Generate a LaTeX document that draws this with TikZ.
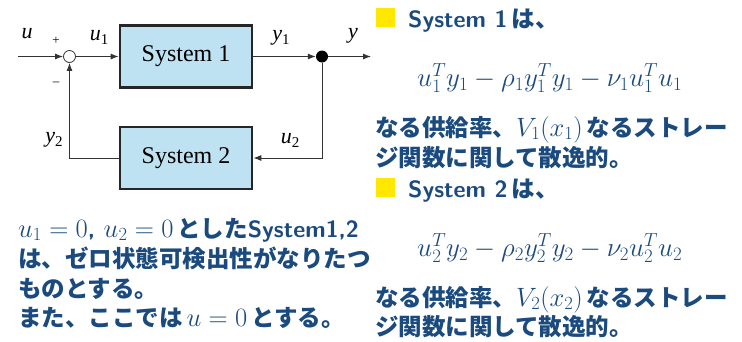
\RequirePackage{fix-cm}
\documentclass[tikz,border=0pt]{standalone}
\usepackage{fontspec}
\newfontfamily\jp{Noto Sans CJK JP}
\newfontfamily\tms{Liberation Serif}
\usetikzlibrary{arrows.meta}
\definecolor{tb}{HTML}{1B4A7E}
\definecolor{boxblue}{HTML}{BFE2F2}
\definecolor{yel}{HTML}{FFE800}
\newcommand\J[1]{{\jp #1}}
\newcommand\sbs[1]{\raisebox{-4pt}{\upshape\fontsize{15}{15}\selectfont #1}}
\tikzset{
  txt/.style={anchor=base west, inner sep=0pt, text=tb, font=\fontsize{23.5}{28}\selectfont\sffamily\bfseries},
  mth/.style={anchor=base west, inner sep=0pt, text=tb, font=\fontsize{27}{30}\selectfont},
  sq/.style={fill=yel, minimum size=19pt, inner sep=0pt},
  blk/.style={draw=black!85, line width=2.6pt, fill=boxblue, minimum width=132pt, minimum height=62pt, inner sep=0pt, font=\tms\fontsize{24}{24}\selectfont},
  sig/.style={draw=black!80, line width=1pt, -{Latex[length=8pt,width=6pt]}},
  lab/.style={font=\tms\fontsize{22}{22}\selectfont\itshape, inner sep=0pt},
  sgn/.style={font=\tms\fontsize{13}{13}\selectfont, inner sep=0pt},
}
\newcommand\M[1]{{\fontsize{26.5}{28}\selectfont$#1$}}
\begin{document}
\begin{tikzpicture}[x=1pt,y=-1pt]
\useasboundingbox (0,0) rectangle (742,341);
% block diagram
\node[blk] (s1) at (186,56.5) {System 1};
\node[blk] (s2) at (186,158) {System 2};
\node[circle, draw=black!80, fill=white, minimum size=12pt, inner sep=0pt, line width=0.8pt] (sum) at (69.5,56.5) {};
\node[circle, fill=black, minimum size=12pt, inner sep=0pt] (dot) at (322,56.5) {};
\coordinate (in) at (18,56.5);
\coordinate (out) at (371,56.5);
\draw[sig] (in) -- (sum);
\draw[sig] (sum) -- (s1);
\draw[sig] (s1) -- (dot);
\draw[sig] (dot) -- (out);
\draw[sig] (dot) |- (s2);
\draw[sig] (s2) -| (sum);
\node[lab] (lu) at (27,34) {u};
\node[lab] (lu1) at (99,37) {u\sbs{1}};
\node[lab] (ly1) at (281,38) {y\sbs{1}};
\node[lab] (ly) at (353,36) {y};
\node[lab] (ly2) at (54,140) {y\sbs{2}};
\node[lab] (lu2) at (290,140) {u\sbs{2}};
\node[sgn] (plus) at (56,41) {+};
\node[sgn] (minus) at (56,84) {\textendash};
% right text
\node[sq] (sq1) at (385.5,17.5) {};
\node[txt] (h1) at (408,27) {System 1\hspace{4pt}\J{は、}};
\node[mth] (e1) at (417,86) {$u_1^T y_1 - \rho_1 y_1^T y_1 - \nu_1 u_1^T u_1$};
\node[txt] (p1a) at (375,136) {\J{なる供給率、}\M{V_1(x_1)}\,\J{なるストレー}};
\node[txt] (p1b) at (375,166) {\J{ジ関数に関して散逸的。}};
\node[sq] (sq2) at (385.5,187.5) {};
\node[txt] (h2) at (408,197) {System 2\hspace{4pt}\J{は、}};
\node[mth] (e2) at (417,256) {$u_2^T y_2 - \rho_2 y_2^T y_2 - \nu_2 u_2^T u_2$};
\node[txt] (p2a) at (375,306) {\J{なる供給率、}\M{V_2(x_2)}\,\J{なるストレー}};
\node[txt] (p2b) at (375,335) {\J{ジ関数に関して散逸的。}};
% left text
\node[txt] (l1) at (18,237) {\M{u_1 = 0}, \M{u_2 = 0}\,\J{とした}System1,2};
\node[txt] (l2) at (18,267) {\J{は、ゼロ状態可検出性がなりたつ}};
\node[txt] (l3) at (18,297) {\J{ものとする。}};
\node[txt] (l4) at (18,326) {\J{また、ここでは}\,\M{u = 0}\,\J{とする。}};
\end{tikzpicture}
\end{document}
